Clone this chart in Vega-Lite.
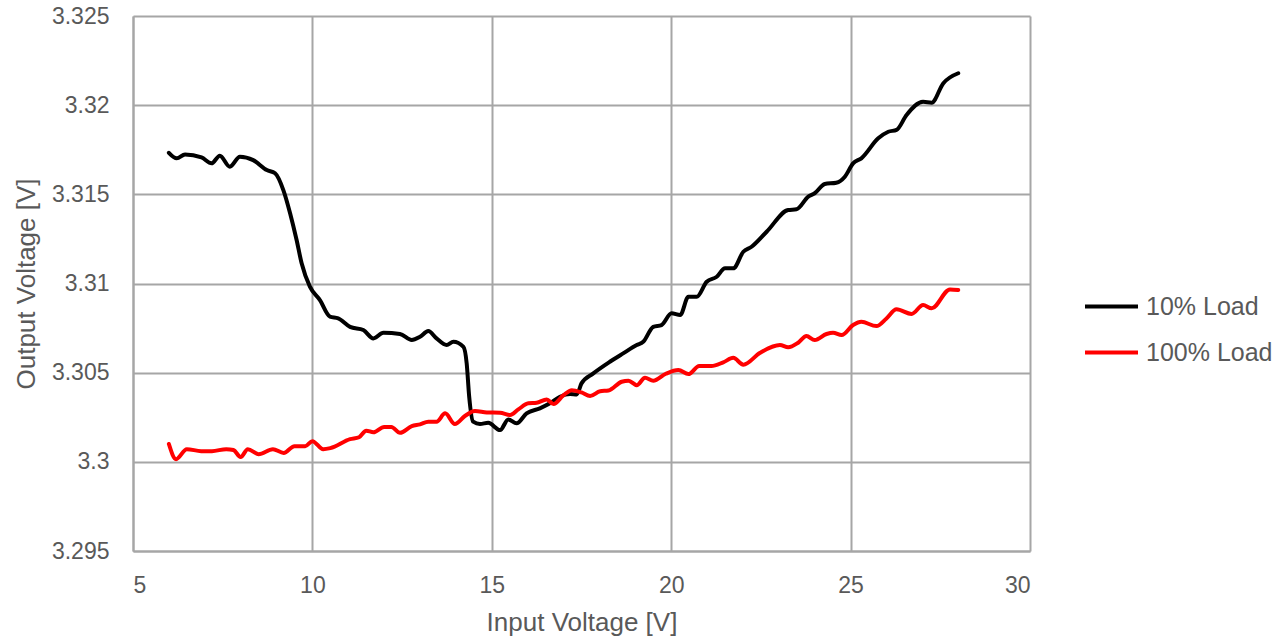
{
  "$schema": "https://vega.github.io/schema/vega-lite/v6.json",
  "width": 897,
  "height": 535,
  "autosize": {"type": "none"},
  "padding": {"left": 133, "top": 16, "right": 257, "bottom": 92},
  "background": "white",
  "config": {
    "font": "Liberation Sans",
    "view": {"stroke": null},
    "axis": {"labelFont": "Liberation Sans", "titleFont": "Liberation Sans", "labelColor": "#595959", "titleColor": "#595959", "labelFontSize": 23, "titleFontSize": 26, "titleFontWeight": "normal", "gridColor": "#a6a6a6", "gridWidth": 2, "gridOpacity": 1, "domainColor": "#a6a6a6", "domainWidth": 2, "ticks": false}
  },
  "data": {"values": [
    {"vin": 6.0, "vout": 3.31733, "s": "10% Load"},
    {"vin": 6.22, "vout": 3.31702, "s": "10% Load"},
    {"vin": 6.45, "vout": 3.31724, "s": "10% Load"},
    {"vin": 6.91, "vout": 3.31707, "s": "10% Load"},
    {"vin": 7.19, "vout": 3.31674, "s": "10% Load"},
    {"vin": 7.42, "vout": 3.31717, "s": "10% Load"},
    {"vin": 7.70, "vout": 3.31655, "s": "10% Load"},
    {"vin": 7.98, "vout": 3.31711, "s": "10% Load"},
    {"vin": 8.35, "vout": 3.31692, "s": "10% Load"},
    {"vin": 8.73, "vout": 3.31636, "s": "10% Load"},
    {"vin": 8.96, "vout": 3.31618, "s": "10% Load"},
    {"vin": 9.19, "vout": 3.31524, "s": "10% Load"},
    {"vin": 9.38, "vout": 3.31393, "s": "10% Load"},
    {"vin": 9.56, "vout": 3.31244, "s": "10% Load"},
    {"vin": 9.70, "vout": 3.31113, "s": "10% Load"},
    {"vin": 9.93, "vout": 3.30982, "s": "10% Load"},
    {"vin": 10.21, "vout": 3.30907, "s": "10% Load"},
    {"vin": 10.49, "vout": 3.30814, "s": "10% Load"},
    {"vin": 10.72, "vout": 3.30805, "s": "10% Load"},
    {"vin": 11.05, "vout": 3.30757, "s": "10% Load"},
    {"vin": 11.42, "vout": 3.30739, "s": "10% Load"},
    {"vin": 11.70, "vout": 3.30692, "s": "10% Load"},
    {"vin": 11.98, "vout": 3.30724, "s": "10% Load"},
    {"vin": 12.44, "vout": 3.30717, "s": "10% Load"},
    {"vin": 12.77, "vout": 3.30683, "s": "10% Load"},
    {"vin": 13.00, "vout": 3.30701, "s": "10% Load"},
    {"vin": 13.23, "vout": 3.30733, "s": "10% Load"},
    {"vin": 13.46, "vout": 3.30692, "s": "10% Load"},
    {"vin": 13.74, "vout": 3.30655, "s": "10% Load"},
    {"vin": 13.93, "vout": 3.30673, "s": "10% Load"},
    {"vin": 14.21, "vout": 3.30645, "s": "10% Load"},
    {"vin": 14.30, "vout": 3.30552, "s": "10% Load"},
    {"vin": 14.37, "vout": 3.30365, "s": "10% Load"},
    {"vin": 14.48, "vout": 3.30225, "s": "10% Load"},
    {"vin": 14.67, "vout": 3.30212, "s": "10% Load"},
    {"vin": 14.90, "vout": 3.30219, "s": "10% Load"},
    {"vin": 15.23, "vout": 3.30178, "s": "10% Load"},
    {"vin": 15.46, "vout": 3.30238, "s": "10% Load"},
    {"vin": 15.69, "vout": 3.30216, "s": "10% Load"},
    {"vin": 15.97, "vout": 3.30272, "s": "10% Load"},
    {"vin": 16.34, "vout": 3.30300, "s": "10% Load"},
    {"vin": 16.62, "vout": 3.30328, "s": "10% Load"},
    {"vin": 16.90, "vout": 3.30365, "s": "10% Load"},
    {"vin": 17.18, "vout": 3.30380, "s": "10% Load"},
    {"vin": 17.37, "vout": 3.30378, "s": "10% Load"},
    {"vin": 17.50, "vout": 3.30440, "s": "10% Load"},
    {"vin": 17.83, "vout": 3.30496, "s": "10% Load"},
    {"vin": 18.29, "vout": 3.30561, "s": "10% Load"},
    {"vin": 18.66, "vout": 3.30608, "s": "10% Load"},
    {"vin": 19.04, "vout": 3.30655, "s": "10% Load"},
    {"vin": 19.22, "vout": 3.30673, "s": "10% Load"},
    {"vin": 19.50, "vout": 3.30757, "s": "10% Load"},
    {"vin": 19.73, "vout": 3.30767, "s": "10% Load"},
    {"vin": 20.01, "vout": 3.30833, "s": "10% Load"},
    {"vin": 20.25, "vout": 3.30823, "s": "10% Load"},
    {"vin": 20.48, "vout": 3.30926, "s": "10% Load"},
    {"vin": 20.71, "vout": 3.30926, "s": "10% Load"},
    {"vin": 20.99, "vout": 3.31010, "s": "10% Load"},
    {"vin": 21.27, "vout": 3.31038, "s": "10% Load"},
    {"vin": 21.50, "vout": 3.31085, "s": "10% Load"},
    {"vin": 21.73, "vout": 3.31085, "s": "10% Load"},
    {"vin": 22.01, "vout": 3.31178, "s": "10% Load"},
    {"vin": 22.24, "vout": 3.31206, "s": "10% Load"},
    {"vin": 22.66, "vout": 3.31290, "s": "10% Load"},
    {"vin": 23.26, "vout": 3.31412, "s": "10% Load"},
    {"vin": 23.49, "vout": 3.31416, "s": "10% Load"},
    {"vin": 23.82, "vout": 3.31487, "s": "10% Load"},
    {"vin": 24.00, "vout": 3.31506, "s": "10% Load"},
    {"vin": 24.28, "vout": 3.31558, "s": "10% Load"},
    {"vin": 24.60, "vout": 3.31565, "s": "10% Load"},
    {"vin": 24.84, "vout": 3.31599, "s": "10% Load"},
    {"vin": 25.07, "vout": 3.31674, "s": "10% Load"},
    {"vin": 25.30, "vout": 3.31702, "s": "10% Load"},
    {"vin": 25.77, "vout": 3.31814, "s": "10% Load"},
    {"vin": 26.05, "vout": 3.31851, "s": "10% Load"},
    {"vin": 26.28, "vout": 3.31861, "s": "10% Load"},
    {"vin": 26.56, "vout": 3.31945, "s": "10% Load"},
    {"vin": 27.02, "vout": 3.32019, "s": "10% Load"},
    {"vin": 27.26, "vout": 3.32014, "s": "10% Load"},
    {"vin": 27.58, "vout": 3.32122, "s": "10% Load"},
    {"vin": 28.0, "vout": 3.32179, "s": "10% Load"},
    {"vin": 6.0, "vout": 3.30100, "s": "100% Load"},
    {"vin": 6.2, "vout": 3.30015, "s": "100% Load"},
    {"vin": 6.5, "vout": 3.30071, "s": "100% Load"},
    {"vin": 6.9, "vout": 3.30060, "s": "100% Load"},
    {"vin": 7.2, "vout": 3.30060, "s": "100% Load"},
    {"vin": 7.6, "vout": 3.30071, "s": "100% Load"},
    {"vin": 7.8, "vout": 3.30066, "s": "100% Load"},
    {"vin": 8.0, "vout": 3.30027, "s": "100% Load"},
    {"vin": 8.2, "vout": 3.30071, "s": "100% Load"},
    {"vin": 8.5, "vout": 3.30043, "s": "100% Load"},
    {"vin": 8.9, "vout": 3.30071, "s": "100% Load"},
    {"vin": 9.2, "vout": 3.30050, "s": "100% Load"},
    {"vin": 9.5, "vout": 3.30088, "s": "100% Load"},
    {"vin": 9.8, "vout": 3.30088, "s": "100% Load"},
    {"vin": 10.0, "vout": 3.30116, "s": "100% Load"},
    {"vin": 10.3, "vout": 3.30071, "s": "100% Load"},
    {"vin": 10.5, "vout": 3.30077, "s": "100% Load"},
    {"vin": 11.05, "vout": 3.30127, "s": "100% Load"},
    {"vin": 11.3, "vout": 3.30138, "s": "100% Load"},
    {"vin": 11.5, "vout": 3.30175, "s": "100% Load"},
    {"vin": 11.7, "vout": 3.30166, "s": "100% Load"},
    {"vin": 12.0, "vout": 3.30196, "s": "100% Load"},
    {"vin": 12.2, "vout": 3.30196, "s": "100% Load"},
    {"vin": 12.44, "vout": 3.30163, "s": "100% Load"},
    {"vin": 12.77, "vout": 3.30200, "s": "100% Load"},
    {"vin": 13.0, "vout": 3.30210, "s": "100% Load"},
    {"vin": 13.23, "vout": 3.30225, "s": "100% Load"},
    {"vin": 13.46, "vout": 3.30225, "s": "100% Load"},
    {"vin": 13.70, "vout": 3.30272, "s": "100% Load"},
    {"vin": 13.97, "vout": 3.30212, "s": "100% Load"},
    {"vin": 14.25, "vout": 3.30257, "s": "100% Load"},
    {"vin": 14.53, "vout": 3.30285, "s": "100% Load"},
    {"vin": 14.86, "vout": 3.30277, "s": "100% Load"},
    {"vin": 15.23, "vout": 3.30275, "s": "100% Load"},
    {"vin": 15.51, "vout": 3.30262, "s": "100% Load"},
    {"vin": 15.74, "vout": 3.30294, "s": "100% Load"},
    {"vin": 16.02, "vout": 3.30328, "s": "100% Load"},
    {"vin": 16.25, "vout": 3.30331, "s": "100% Load"},
    {"vin": 16.53, "vout": 3.30350, "s": "100% Load"},
    {"vin": 16.72, "vout": 3.30324, "s": "100% Load"},
    {"vin": 17.00, "vout": 3.30374, "s": "100% Load"},
    {"vin": 17.23, "vout": 3.30402, "s": "100% Load"},
    {"vin": 17.50, "vout": 3.30389, "s": "100% Load"},
    {"vin": 17.74, "vout": 3.30369, "s": "100% Load"},
    {"vin": 18.02, "vout": 3.30396, "s": "100% Load"},
    {"vin": 18.25, "vout": 3.30400, "s": "100% Load"},
    {"vin": 18.62, "vout": 3.30449, "s": "100% Load"},
    {"vin": 18.81, "vout": 3.30455, "s": "100% Load"},
    {"vin": 19.04, "vout": 3.30430, "s": "100% Load"},
    {"vin": 19.27, "vout": 3.30471, "s": "100% Load"},
    {"vin": 19.50, "vout": 3.30455, "s": "100% Load"},
    {"vin": 19.85, "vout": 3.30494, "s": "100% Load"},
    {"vin": 20.20, "vout": 3.30515, "s": "100% Load"},
    {"vin": 20.48, "vout": 3.30492, "s": "100% Load"},
    {"vin": 20.78, "vout": 3.30537, "s": "100% Load"},
    {"vin": 21.12, "vout": 3.30537, "s": "100% Load"},
    {"vin": 21.45, "vout": 3.30558, "s": "100% Load"},
    {"vin": 21.73, "vout": 3.30583, "s": "100% Load"},
    {"vin": 22.01, "vout": 3.30545, "s": "100% Load"},
    {"vin": 22.48, "vout": 3.30612, "s": "100% Load"},
    {"vin": 23.03, "vout": 3.30655, "s": "100% Load"},
    {"vin": 23.26, "vout": 3.30642, "s": "100% Load"},
    {"vin": 23.54, "vout": 3.30668, "s": "100% Load"},
    {"vin": 23.77, "vout": 3.30705, "s": "100% Load"},
    {"vin": 24.00, "vout": 3.30683, "s": "100% Load"},
    {"vin": 24.33, "vout": 3.30717, "s": "100% Load"},
    {"vin": 24.51, "vout": 3.30724, "s": "100% Load"},
    {"vin": 24.75, "vout": 3.30711, "s": "100% Load"},
    {"vin": 25.07, "vout": 3.30767, "s": "100% Load"},
    {"vin": 25.30, "vout": 3.30785, "s": "100% Load"},
    {"vin": 25.72, "vout": 3.30761, "s": "100% Load"},
    {"vin": 26.00, "vout": 3.30804, "s": "100% Load"},
    {"vin": 26.28, "vout": 3.30855, "s": "100% Load"},
    {"vin": 26.70, "vout": 3.30829, "s": "100% Load"},
    {"vin": 27.02, "vout": 3.30879, "s": "100% Load"},
    {"vin": 27.26, "vout": 3.30861, "s": "100% Load"},
    {"vin": 27.77, "vout": 3.30967, "s": "100% Load"},
    {"vin": 28.0, "vout": 3.30963, "s": "100% Load"}
  ]},
  "mark": {"type": "line", "interpolate": "monotone", "strokeWidth": 4, "strokeCap": "round", "strokeJoin": "round"},
  "encoding": {
    "x": {"field": "vin", "type": "quantitative", "scale": {"domain": [5, 30], "nice": false, "zero": false},
      "axis": {"values": [5, 10, 15, 20, 25, 30], "title": "Input Voltage [V]", "labelPadding": 23, "titlePadding": 12, "grid": true}},
    "y": {"field": "vout", "type": "quantitative", "scale": {"domain": [3.295, 3.325], "nice": false, "zero": false},
      "axis": {"values": [3.295, 3.3, 3.305, 3.31, 3.315, 3.32, 3.325], "format": "~g", "title": "Output Voltage [V]", "labelPadding": 24, "titlePadding": 12, "grid": true}},
    "color": {"field": "s", "type": "nominal",
      "scale": {"domain": ["10% Load", "100% Load"], "range": ["#000000", "#ff0000"]},
      "legend": {"title": null, "orient": "none", "legendX": 950, "legendY": 262, "symbolType": "stroke", "symbolSize": 2809, "symbolStrokeWidth": 4, "labelFontSize": 25, "labelColor": "#595959", "labelFont": "Liberation Sans", "labelOffset": 6, "rowPadding": 4, "symbolOffset": 0}}
  }
}
